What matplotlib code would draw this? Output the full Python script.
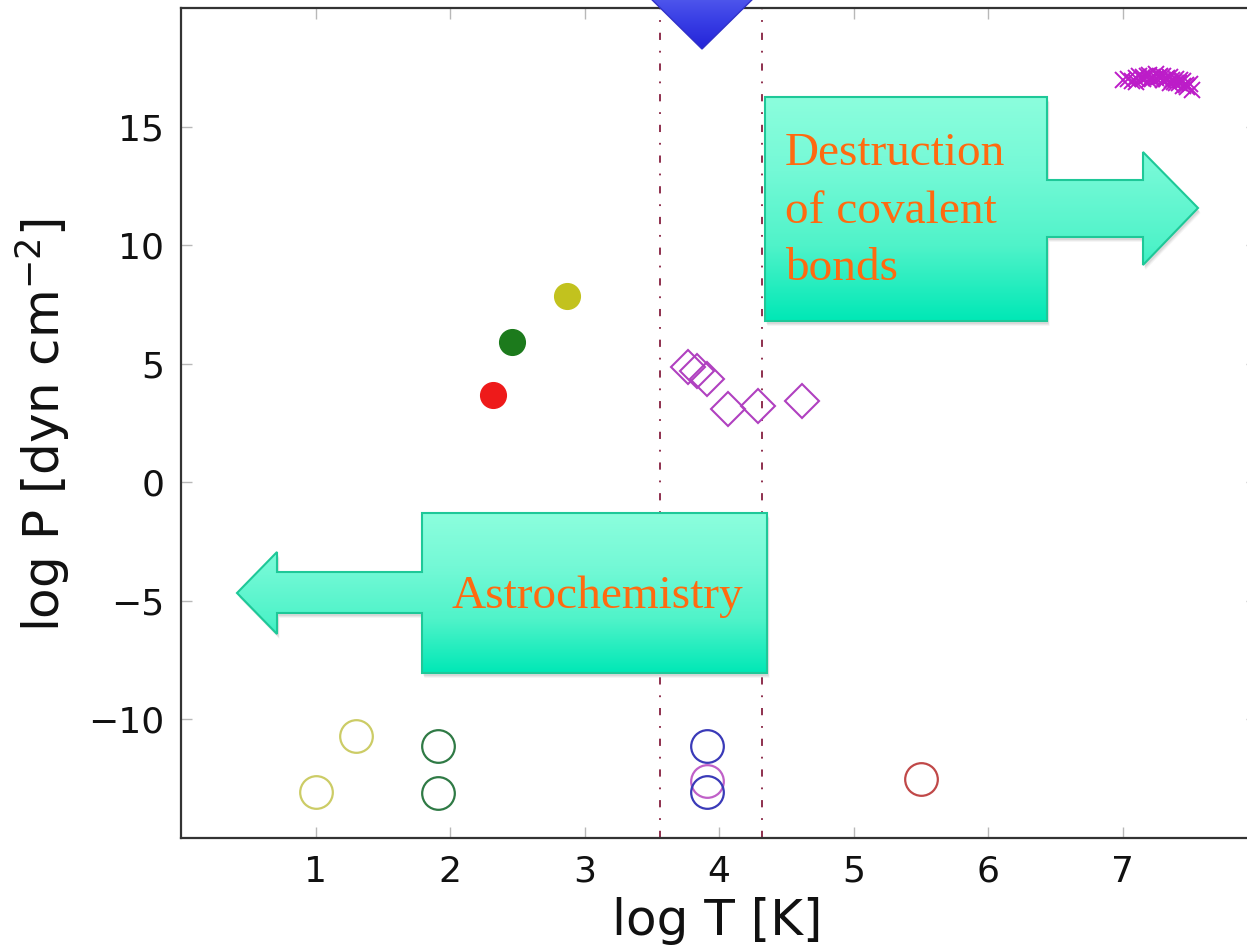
import numpy as np
import matplotlib
matplotlib.use("Agg")
import matplotlib.pyplot as plt
from matplotlib.patches import Polygon
from matplotlib.colors import LinearSegmentedColormap

# ---------------- data ----------------
filled_x = [2.32, 2.46, 2.87]
filled_y = [3.67, 5.9, 7.85]
filled_colors = ['#ee1a1a', '#1c7a1c', '#c2c21e']

open_x = [1.0, 1.30, 1.91, 1.91, 3.91, 3.91, 3.91, 5.50]
open_y = [-13.05, -10.7, -11.1, -13.1, -11.1, -12.6, -13.08, -12.53]
open_colors = ['#cccc66', '#cccc66', '#2f7a45', '#2f7a45',
               '#3a3ab8', '#c060c8', '#3a3ab8', '#c04848']

diamond_x = [3.77, 3.84, 3.91, 4.07, 4.29, 4.62]
diamond_y = [4.85, 4.68, 4.35, 3.08, 3.20, 3.42]

cross_x = [7.00, 7.04, 7.07, 7.10, 7.12, 7.15, 7.18, 7.20, 7.22, 7.25,
           7.27, 7.30, 7.32, 7.35, 7.37, 7.40, 7.42, 7.45, 7.47, 7.50,
           7.52, 7.10, 7.20, 7.30, 7.40, 7.25, 7.35, 7.45, 7.15, 7.28,
           7.33, 7.38, 7.43, 7.48, 7.22]
cross_y = [16.95, 17.00, 16.92, 17.05, 17.12, 17.08, 17.15, 17.18, 17.02, 17.20,
           17.10, 17.15, 17.00, 17.10, 16.95, 17.02, 16.85, 16.92, 16.75, 16.80,
           16.55, 16.88, 16.98, 16.95, 16.85, 17.05, 16.82, 16.70, 17.00, 17.12,
           17.05, 16.90, 16.95, 16.65, 17.10]

vlines_x = [3.56, 4.32]

xticks = [1, 2, 3, 4, 5, 6, 7]
yticks = [-10, -5, 0, 5, 10, 15]

# ---------------- figure ----------------
W, H = 1247, 946
fig = plt.figure(figsize=(W / 100, H / 100), dpi=100)

left_px, right_px, top_px, bot_px = 181, 1257, 8, 838
ax = fig.add_axes([left_px / W, (H - bot_px) / H,
                   (right_px - left_px) / W, (bot_px - top_px) / H])
ax.set_xlim(0, 8)
ax.set_ylim(-15, 20)

for xv in vlines_x:
    ax.axvline(xv, color='#862040', lw=1.3, linestyle=(0, (4, 6, 1, 6)), zorder=1)

for x, y, c in zip(open_x, open_y, open_colors):
    ax.plot(x, y, 'o', ms=23.5, mfc='none', mec=c, mew=1.6, zorder=3)

for x, y, c in zip(filled_x, filled_y, filled_colors):
    ax.plot(x, y, 'o', ms=18.5, mfc=c, mec=c, zorder=3)

ax.plot(diamond_x, diamond_y, 'D', ms=17, mfc='none', mec='#b040c0', mew=1.5,
        linestyle='none', zorder=3)

ax.plot(cross_x, cross_y, 'x', ms=12, mec='#bc1cc8', mew=1.4,
        linestyle='none', zorder=3)

ax.set_xticks(xticks)
ax.set_yticks(yticks)
ax.set_yticklabels([str(v).replace('-', '\u2212') for v in yticks])
ax.tick_params(direction='in', length=8, width=1.0, color='#b8b8b8',
               labelsize=26, pad=12, top=True, right=True, labelcolor='#111111')
for s in ax.spines.values():
    s.set_linewidth(1.6)
    s.set_color('#333333')

ax.set_xlabel('log T [K]', fontsize=36, color='#111111')
ax.xaxis.set_label_coords((717 - left_px) / (right_px - left_px),
                          -(921 - bot_px) / (bot_px - top_px))
ax.xaxis.label.set_va('center')
ax.set_ylabel(r'log P [dyn cm$^{-2}$]', fontsize=36, color='#111111')
ax.yaxis.set_label_coords(-(left_px - 42) / (right_px - left_px),
                          (bot_px - 425) / (bot_px - top_px))
ax.yaxis.label.set_va('center')

# ---------------- overlay (slide annotations in pixel coords) ----------------
ov = fig.add_axes([0, 0, 1, 1], zorder=5)
ov.set_axis_off()
ov.patch.set_alpha(0)


def grad_shape(verts, colors, edge, lw=1.5, shadow=True):
    xs = [v[0] for v in verts]
    ys = [v[1] for v in verts]
    if shadow:
        for k, a in [(5, 0.06), (4, 0.08), (3, 0.10)]:
            sv = [(vx + k * 0.5, vy + k) for vx, vy in verts]
            ov.add_patch(Polygon(sv, closed=True, facecolor='#555555',
                                 edgecolor='none', alpha=a, zorder=1))
    clip = Polygon(verts, closed=True, facecolor='none', edgecolor='none')
    ov.add_patch(clip)
    cmap = LinearSegmentedColormap.from_list('g', colors)
    grad = np.linspace(0, 1, 256).reshape(-1, 1)
    im = ov.imshow(grad, extent=(min(xs), max(xs), max(ys), min(ys)), cmap=cmap,
                   aspect='auto', origin='upper', zorder=2, interpolation='bilinear')
    im.set_clip_path(clip)
    ov.add_patch(Polygon(verts, closed=True, facecolor='none', edgecolor=edge,
                         lw=lw, zorder=3))


mint = ['#8cfedd', '#74f9d6', '#4ff3c9', '#00e8b6']
edge = '#1ec898'

destr = [(765, 97), (1047, 97), (1047, 180), (1143, 180), (1143, 152),
         (1198, 208), (1143, 265), (1143, 237), (1047, 237), (1047, 321),
         (765, 321)]
grad_shape(destr, mint, edge)

astro = [(422, 513), (767, 513), (767, 673), (422, 673), (422, 613),
         (277, 613), (277, 634), (237, 593), (277, 552), (277, 572),
         (422, 572)]
grad_shape(astro, mint, edge)

tri = [(640, -12), (764, -12), (702, 49)]
grad_shape(tri, ['#5a62f0', '#3a40e6', '#2424d8'], '#3030c8', lw=1.0, shadow=False)

orange = '#ff6a10'
tfont = dict(family='Liberation Serif', fontsize=34, color=orange, va='baseline',
             ha='left', zorder=6)
ov.text(785, 165, 'Destruction', **tfont)
ov.text(785, 223, 'of covalent', **tfont)
ov.text(785, 280, 'bonds', **tfont)
ov.text(452, 608, 'Astrochemistry', **tfont)

ov.set_xlim(0, W)
ov.set_ylim(H, 0)

fig.savefig('out.png', dpi=100)
